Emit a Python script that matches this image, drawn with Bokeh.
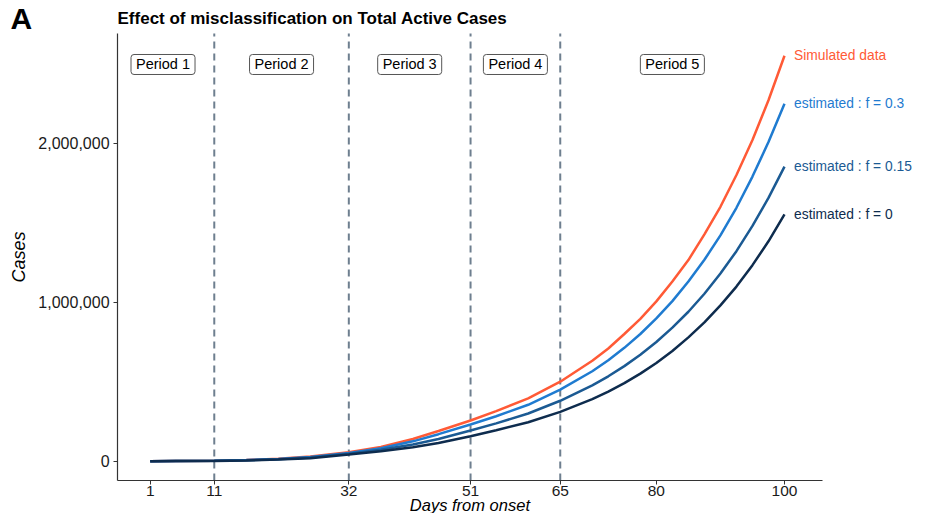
from bokeh.plotting import figure
from bokeh.models import Label, FixedTicker, NumeralTickFormatter, Range1d, LinearAxis
from bokeh.embed import file_html
from bokeh.resources import INLINE

# ---- data ----
days = [1, 5, 11, 16, 21, 26, 32, 37, 42, 46, 51, 55, 60, 65, 70, 72.5, 75, 77.5, 80,
        82.5, 85, 87.5, 90, 92.5, 95, 97.5, 100]
simulated = [0, 1000, 3000, 8000, 16000, 30000, 57000, 90000, 140000, 190000, 256000,
             315000, 395000, 500000, 632000, 709000, 800000, 895000, 1005000,
             1130000, 1265000, 1427000, 1600000, 1800000, 2020000, 2270000, 2550000]
est_f030 = [0, 1000, 3000, 7000, 14000, 27000, 52000, 82000, 125000, 170000, 231000,
            283000, 355000, 450000, 566000, 635000, 713000, 800000, 898000,
            1007000, 1130000, 1267000, 1420000, 1594000, 1790000, 2007000, 2248000]
est_f015 = [0, 1000, 3000, 6000, 12000, 23000, 47000, 72000, 105000, 140000, 193000,
            238000, 300000, 380000, 477000, 534000, 598000, 669000, 750000,
            840000, 940000, 1053000, 1180000, 1321000, 1480000, 1656000, 1853000]
est_f000 = [0, 1000, 2000, 5000, 10000, 19000, 42000, 62000, 88000, 115000, 157000,
            195000, 245000, 310000, 390000, 438000, 491000, 551000, 618000,
            693000, 779000, 873000, 980000, 1098000, 1233000, 1383000, 1552000]

series_names = ["Simulated data", "estimated : f = 0.3", "estimated : f = 0.15", "estimated : f = 0"]
series_values = [simulated, est_f030, est_f015, est_f000]
series_colors = ["#FF5A36", "#1F7BD0", "#1B5A93", "#0E2C4E"]

period_breaks = [11, 32, 51, 65]
period_labels = ["Period 1", "Period 2", "Period 3", "Period 4", "Period 5"]
period_centers = [3, 21.5, 41.5, 58, 82.5]
period_label_y = 2495000

x_ticks = [1, 11, 32, 51, 65, 80, 100]
y_ticks = [0, 1000000, 2000000]

title_text = "Effect of misclassification on Total Active Cases"
panel_tag = "A"
x_title = "Days from onset"
y_title = "Cases"

FONT = "Liberation Sans"

# visible panel limits (axis extents) in data units
X_LO, X_HI = -4.1, 105.9
Y_LO, Y_HI = -121000, 2690000

p = figure(width=913, height=513, output_backend="svg", toolbar_location=None,
           x_range=Range1d(-22.365, 120.135), y_range=Range1d(-328900, 2897500),
           min_border_left=0, min_border_right=0, min_border_top=0, min_border_bottom=0,
           x_axis_type=None, y_axis_type=None, title=None)

p.outline_line_color = None
p.background_fill_color = "white"
p.border_fill_color = "white"

xaxis = LinearAxis(fixed_location=Y_LO, bounds=(X_LO, X_HI))
yaxis = LinearAxis(fixed_location=X_LO, bounds=(Y_LO, Y_HI))
p.add_layout(xaxis, "below")
p.add_layout(yaxis, "left")

for ax in (xaxis, yaxis):
    ax.axis_line_color = "#333333"
    ax.axis_line_width = 1.2
    ax.major_tick_line_color = "#333333"
    ax.major_tick_in = 0
    ax.major_tick_out = 4
    ax.minor_tick_line_color = None
    ax.major_label_text_font = FONT
    ax.major_label_text_font_size = "16px"
    ax.major_label_text_color = "#1a1a1a"
    ax.axis_label_text_font = FONT
    ax.axis_label_text_font_size = "18px"
    ax.axis_label_text_font_style = "italic"
    ax.axis_label_text_color = "#000000"

xaxis.ticker = FixedTicker(ticks=x_ticks)
yaxis.ticker = FixedTicker(ticks=y_ticks)
yaxis.formatter = NumeralTickFormatter(format="0,0")
xaxis.major_label_standoff = 2
xaxis.major_label_text_font_size = "15.5px"
yaxis.major_label_standoff = 4
yaxis.axis_label = y_title
yaxis.axis_label_standoff = 6

# x-axis title, kept inside the canvas
p.add_layout(Label(x=(X_LO + X_HI) / 2, y=-272300, text=x_title, text_font=FONT,
                   text_font_size="16.5px", text_font_style="italic",
                   text_align="center", text_baseline="middle", text_color="#000000"))

# dashed period boundaries, spanning the panel height
p.segment(x0=period_breaks, y0=[Y_LO] * len(period_breaks),
          x1=period_breaks, y1=[Y_HI] * len(period_breaks),
          line_color="#6E7F8F", line_width=2, line_dash="7 5")

for name, vals, col in zip(series_names, series_values, series_colors):
    p.line(days, vals, line_width=2.5, line_color=col)
    p.add_layout(Label(x=days[-1] + 1.5, y=vals[-1], text=name, text_color=col,
                       text_font=FONT, text_font_size="13.8px",
                       text_baseline="middle", text_align="left"))

for lab, cx in zip(period_labels, period_centers):
    p.add_layout(Label(x=cx, y=period_label_y, text=lab, text_font=FONT,
                       text_font_size="14.5px", text_color="#000000",
                       text_align="center", text_baseline="middle",
                       background_fill_color="white", border_line_color="#555555",
                       border_line_width=1, padding=(5, 2), border_radius=3))

p.add_layout(Label(x=X_LO, y=2784000, text=title_text, text_font=FONT,
                   text_font_size="17px", text_font_style="bold", text_align="left",
                   text_baseline="middle", text_color="#000000"))

p.add_layout(Label(x=-19.1, y=2784000, text=panel_tag, text_font=FONT, text_font_size="30px",
                   text_font_style="bold", text_align="center", text_baseline="middle",
                   text_color="#000000"))

open("out.html", "w").write(file_html(p, INLINE))
